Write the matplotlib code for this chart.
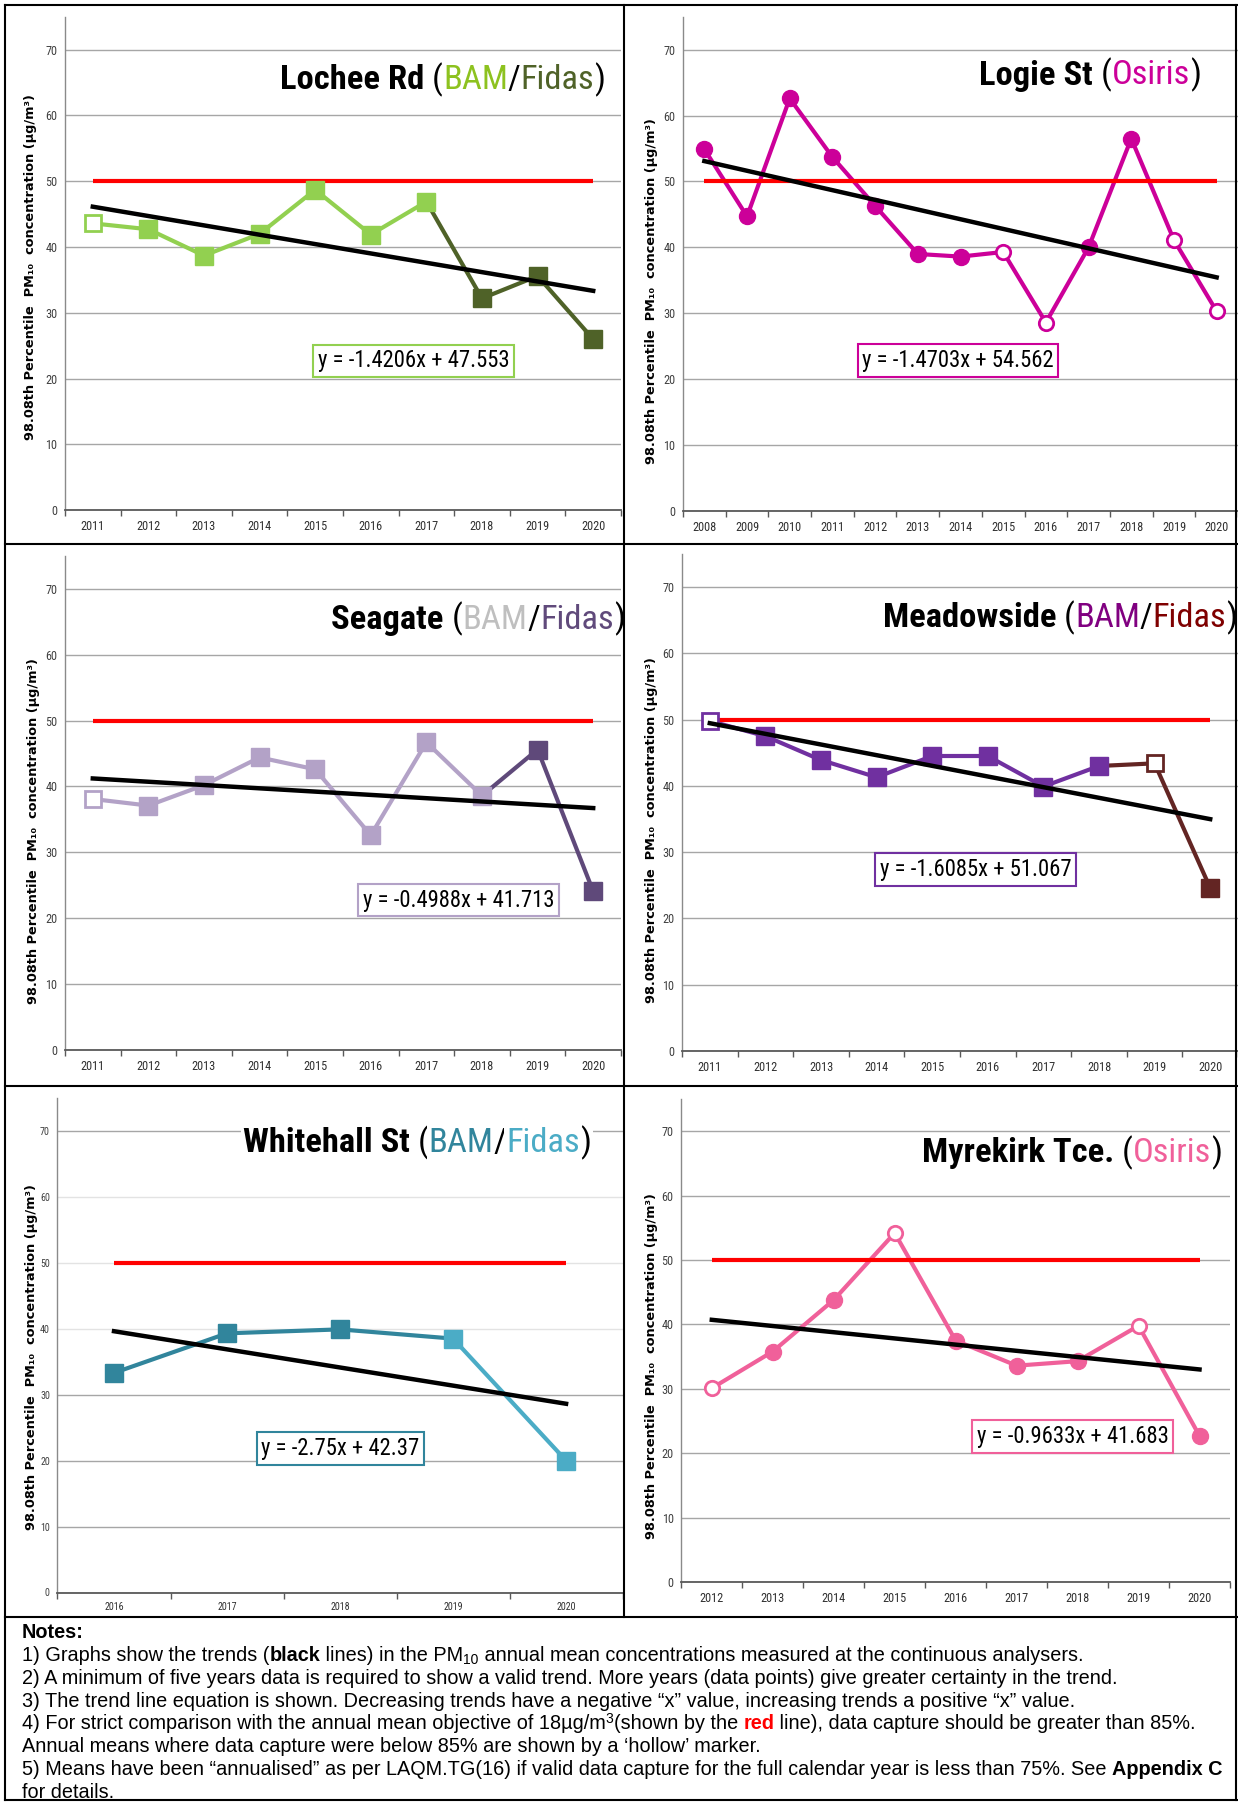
import os
import matplotlib
matplotlib.use("Agg")
import matplotlib.pyplot as plt
from matplotlib import font_manager
from matplotlib.font_manager import FontProperties
from matplotlib.lines import Line2D
import numpy as np

# ---------------- data ----------------
OBJECTIVE = 50

lochee_years = [2011, 2012, 2013, 2014, 2015, 2016, 2017, 2018, 2019, 2020]
lochee_vals = [43.6, 42.7, 38.7, 42.0, 48.7, 41.9, 46.9, 32.2, 35.6, 26.0]
lochee_inst = [0, 0, 0, 0, 0, 0, 0, 1, 1, 1]
lochee_hollow = [1, 0, 0, 0, 0, 0, 0, 0, 0, 0]
lochee_seg = [0, 0, 0, 0, 0, 0, 1, 1, 1]
lochee_trend = (-1.4206, 47.553)

logie_years = [2008, 2009, 2010, 2011, 2012, 2013, 2014, 2015, 2016, 2017, 2018, 2019, 2020]
logie_vals = [54.9, 44.7, 62.6, 53.7, 46.3, 39.0, 38.6, 39.3, 28.6, 40.0, 56.5, 41.1, 30.3]
logie_inst = [0] * 13
logie_hollow = [0, 0, 0, 0, 0, 0, 0, 1, 1, 0, 0, 1, 1]
logie_seg = [0] * 12
logie_trend = (-1.4703, 54.562)

seagate_years = [2011, 2012, 2013, 2014, 2015, 2016, 2017, 2018, 2019, 2020]
seagate_vals = [38.1, 37.1, 40.2, 44.4, 42.6, 32.6, 46.7, 38.6, 45.6, 24.1]
seagate_inst = [0, 0, 0, 0, 0, 0, 0, 0, 1, 1]
seagate_hollow = [1, 0, 0, 0, 0, 0, 0, 0, 0, 0]
seagate_seg = [0, 0, 0, 0, 0, 0, 0, 1, 1]
seagate_trend = (-0.4988, 41.713)

meadow_years = [2011, 2012, 2013, 2014, 2015, 2016, 2017, 2018, 2019, 2020]
meadow_vals = [49.8, 47.5, 43.9, 41.3, 44.5, 44.5, 39.9, 43.0, 43.4, 24.6]
meadow_inst = [0, 0, 0, 0, 0, 0, 0, 0, 1, 1]
meadow_hollow = [1, 0, 0, 0, 0, 0, 0, 0, 1, 0]
meadow_seg = [0, 0, 0, 0, 0, 0, 0, 1, 1]
meadow_trend = (-1.6085, 51.067)

white_years = [2016, 2017, 2018, 2019, 2020]
white_vals = [33.3, 39.3, 39.9, 38.5, 20.0]
white_inst = [0, 0, 0, 1, 1]
white_hollow = [0, 0, 0, 0, 0]
white_seg = [0, 0, 0, 1]
white_trend = (-2.75, 42.37)

myre_years = [2012, 2013, 2014, 2015, 2016, 2017, 2018, 2019, 2020]
myre_vals = [30.1, 35.8, 43.8, 54.2, 37.5, 33.6, 34.3, 39.8, 22.7]
myre_inst = [0] * 9
myre_hollow = [1, 0, 0, 1, 0, 0, 0, 1, 0]
myre_seg = [0] * 8
myre_trend = (-0.9633, 41.683)

Y_TICKS = [0, 10, 20, 30, 40, 50, 60, 70]
Y_LABEL = "98.08th Percentile  PM\u2081\u2080  concentration (\u00b5g/m\u00b3)"

# ---------------- fonts ----------------
BAD = ("italic", "oblique", "semi", "extra", "ultra", "light", "thin", "medium",
       "black", "heavy", "demi", "book")
PRIORITY = ("liberationsansnarrow", "arialnarrow", "robotocondensed",
            "notosans-condensed", "notosanscondensed", "opensans-cond",
            "dejavusanscondensed")


def find_condensed():
    reg, bold = {}, {}
    for f in font_manager.fontManager.ttflist:
        fn = os.path.basename(f.fname).lower()
        if not ("narrow" in fn or "cond" in fn):
            continue
        if any(b in fn for b in BAD):
            continue
        key = None
        for i, p in enumerate(PRIORITY):
            if fn.startswith(p):
                key = i
                break
        if key is None:
            key = 99
        if "bold" in fn:
            bold.setdefault(key, f.fname)
        else:
            reg.setdefault(key, f.fname)
    common = sorted(set(reg) & set(bold))
    if common:
        k = common[0]
        return reg[k], bold[k]
    return None, None


REG_F, BOLD_F = find_condensed()
if REG_F:
    NS = 1.0

    def cond(size, bold=False):
        return FontProperties(fname=BOLD_F if bold else REG_F, size=size)
else:
    NS = 0.82

    def cond(size, bold=False):
        return FontProperties(family="Liberation Sans", weight="bold" if bold else "normal",
                              size=size * NS)

REG = "Liberation Sans"
TITLE_SIZE = 24.8
EQ_SIZE = 16.3

W, H = 1238, 1802
fig = plt.figure(figsize=(W / 100, H / 100), dpi=100)
fig.patch.set_facecolor("white")
RND = fig.canvas.get_renderer()


def fx(x):
    return x / W


def fy(y):
    return 1 - y / H


def text_w(s, **kw):
    t = fig.text(0, 0, "|" + s + "|", **kw)
    t2 = fig.text(0, 0, "||", **kw)
    w = t.get_window_extent(RND).width - t2.get_window_extent(RND).width
    t.remove()
    t2.remove()
    return w


def rich_line(x, y, segs, align="left", **common):
    items = []
    for s, kw in segs:
        k = dict(common)
        k.update({a: b for a, b in kw.items() if a != "dy"})
        items.append((s, k, kw.get("dy", 0), text_w(s, **k)))
    total = sum(i[3] for i in items)
    if align == "center":
        x -= total / 2
    for s, k, dy, w in items:
        fig.text(fx(x), fy(y - dy), s, va="baseline", ha="left", **k)
        x += w


def panel(rect, years, vals, inst, hollow, seg, colors, marker, msize, trend,
          eq_center, eq_color, tick_size, ylab_pos, light_grid=()):
    L, T, Rr, B = rect
    ax = fig.add_axes([fx(L), fy(B), (Rr - L) / W, (B - T) / H])
    n = len(years)
    x = np.arange(n)
    ax.set_xlim(-0.5, n - 0.5)
    ax.set_ylim(0, 75)
    ax.set_yticks(Y_TICKS)
    ax.set_yticklabels([str(v) for v in Y_TICKS])
    ax.set_xticks(x)
    ax.set_xticklabels([str(yr) for yr in years])
    ax.set_xticks(np.arange(n + 1) - 0.5, minor=True)
    ax.tick_params(axis="y", length=0, pad=5.5, labelcolor="#404040")
    ax.tick_params(axis="x", which="major", length=0, pad=7, labelcolor="#303030")
    ax.tick_params(axis="x", which="minor", length=4, width=1, color="#595959", direction="out")
    for lab in ax.get_xticklabels() + ax.get_yticklabels():
        lab.set_fontproperties(cond(tick_size))
    for s in ("top", "right"):
        ax.spines[s].set_visible(False)
    ax.spines["left"].set_color("#8a8a8a")
    ax.spines["left"].set_linewidth(1)
    ax.spines["bottom"].set_color("#595959")
    ax.spines["bottom"].set_linewidth(1.3)
    ax.grid(axis="y", color="#a6a6a6", lw=1)
    ax.set_axisbelow(True)
    for gl, v in zip(ax.get_ygridlines(), Y_TICKS):
        if v in light_grid:
            gl.set_color("#e3e3e3")
    ax.patch.set_alpha(0)
    # objective line
    ax.plot([x[0], x[-1]], [OBJECTIVE, OBJECTIVE], color="#ff0000", lw=3, zorder=3.5,
            solid_capstyle="butt")
    # data segments
    for i in range(n - 1):
        ax.plot(x[i:i + 2], vals[i:i + 2], color=colors[seg[i]], lw=3, zorder=3,
                solid_capstyle="round")
    # markers
    for k in sorted(set(inst)):
        idx_f = [i for i in range(n) if inst[i] == k and not hollow[i]]
        idx_h = [i for i in range(n) if inst[i] == k and hollow[i]]
        if idx_f:
            ax.plot(x[idx_f], [vals[i] for i in idx_f], ls="none", marker=marker,
                    ms=msize, mfc=colors[k], mec=colors[k], zorder=4)
        if idx_h:
            ax.plot(x[idx_h], [vals[i] for i in idx_h], ls="none", marker=marker,
                    ms=msize * 0.9, mfc="white", mec=colors[k], mew=2.0, zorder=4)
    # trend line
    m, b = trend
    xi = x + 1
    ax.plot([x[0], x[-1]], [m * xi[0] + b, m * xi[-1] + b], color="black", lw=3.2, zorder=6)
    # equation box
    fig.text(fx(eq_center[0]), fy(eq_center[1]), f"y = {m:g}x + {b:g}", ha="center",
             va="center", fontproperties=cond(EQ_SIZE), color="black", zorder=10,
             bbox=dict(boxstyle="square,pad=0.2", fc="white", ec=eq_color, lw=1.5))
    # y label
    fig.text(fx(ylab_pos[0]), fy(ylab_pos[1]), Y_LABEL, rotation=90, ha="center",
             va="center", family="DejaVu Sans", weight="bold", size=9.3, color="black")
    return ax


def title(cx, base, name, parts, white_bg=False):
    extra = {}
    if white_bg:
        extra = dict(bbox=dict(fc="white", ec="none", pad=1.5))
    segs = [(name + " ", dict(fontproperties=cond(TITLE_SIZE, True), color="black"))]
    for s, c in parts:
        segs.append((s, dict(fontproperties=cond(TITLE_SIZE), color=c)))
    rich_line(cx, base, segs, align="center", zorder=8, **extra)


# colours
LOCHEE = ["#92d050", "#4f6228"]
LOGIE = ["#cc0099"]
SEAGATE = ["#b3a2c7", "#5f497a"]
MEADOW = ["#7030a0", "#632523"]
WHITE = ["#31859c", "#4bacc6"]
MYRE = ["#f0609a"]

panel((65, 16.7, 621, 510.3), lochee_years, lochee_vals, lochee_inst, lochee_hollow,
      lochee_seg, LOCHEE, "s", 12.5, lochee_trend, (413.5, 361), "#92d050", 8.8, (31, 267))
title(442.5, 89, "Lochee Rd", [("(", "black"), ("BAM", "#8dc21f"), ("/", "black"),
                               ("Fidas", "#4f6228"), (")", "black")])

panel((683, 16.7, 1238, 511), logie_years, logie_vals, logie_inst, logie_hollow,
      logie_seg, LOGIE, "o", 11.5, logie_trend, (958, 360.5), "#cc0099", 8.8, (651.5, 291))
title(1090, 84.5, "Logie St", [("(", "black"), ("Osiris", "#cc0099"), (")", "black")])

panel((65, 555.6, 621, 1050.3), seagate_years, seagate_vals, seagate_inst, seagate_hollow,
      seagate_seg, SEAGATE, "s", 12.5, seagate_trend, (458.5, 900), "#b3a2c7", 8.8, (34, 831))
title(478, 628.6, "Seagate", [("(", "black"), ("BAM", "#bfbfbf"), ("/", "black"),
                              ("Fidas", "#604a7b"), (")", "black")])

panel((682, 553.9, 1238, 1051), meadow_years, meadow_vals, meadow_inst, meadow_hollow,
      meadow_seg, MEADOW, "s", 12.5, meadow_trend, (975.5, 869.5), "#7030a0", 8.8, (651.5, 830))
title(1060, 626.9, "Meadowside", [("(", "black"), ("BAM", "#800080"), ("/", "black"),
                                  ("Fidas", "#7f0000"), (")", "black")])

panel((57.5, 1097.9, 622.6, 1592.5), white_years, white_vals, white_inst, white_hollow,
      white_seg, WHITE, "s", 13, white_trend, (340.5, 1448.5), "#31859c", 7.2, (32, 1357),
      light_grid=(40, 50, 60))
title(417, 1152.3, "Whitehall St", [("(", "black"), ("BAM", "#31859c"), ("/", "black"),
                                    ("Fidas", "#4bacc6"), (")", "black")], white_bg=True)

panel((681.3, 1099, 1230, 1582.1), myre_years, myre_vals, myre_inst, myre_hollow,
      myre_seg, MYRE, "o", 11.5, myre_trend, (1072.5, 1436.5), "#f0609a", 8.8, (651, 1366))
title(1072, 1162, "Myrekirk Tce.", [("(", "black"), ("Osiris", "#f0609a"), (")", "black")])

# ---------------- frame ----------------
def hline(y, x0, x1):
    fig.add_artist(Line2D([fx(x0), fx(x1)], [fy(y), fy(y)], color="black", lw=1.5,
                          transform=fig.transFigure, zorder=20))


def vline(x, y0, y1):
    fig.add_artist(Line2D([fx(x), fx(x)], [fy(y0), fy(y1)], color="black", lw=1.5,
                          transform=fig.transFigure, zorder=20))


hline(5, 5, 1238)
hline(544, 5, 1238)
hline(1086, 5, 1238)
hline(1617, 5, 1238)
hline(1800, 5, 1238)
vline(5, 5, 1800)
vline(624, 5, 1617)
vline(1236, 5, 1800)

# ---------------- notes ----------------
NSZ = 14.3
sub = dict(size=NSZ * 0.7, dy=-3)
sup = dict(size=NSZ * 0.7, dy=6)
notes = [
    [("Notes:", dict(weight="bold"))],
    [("1) Graphs show the trends (", {}), ("black", dict(weight="bold")),
     (" lines) in the PM", {}), ("10", sub),
     (" annual mean concentrations measured at the continuous analysers.", {})],
    [("2) A minimum of five years data is required to show a valid trend. More years (data points) give greater certainty in the trend.", {})],
    [("3) The trend line equation is shown. Decreasing trends have a negative \u201cx\u201d value, increasing trends a positive \u201cx\u201d value.", {})],
    [("4) For strict comparison with the annual mean objective of 18\u00b5g/m", {}), ("3", sup),
     ("(shown by the ", {}), ("red", dict(weight="bold", color="#ff0000")),
     (" line), data capture should be greater than 85%.", {})],
    [("Annual means where data capture were below 85% are shown by a \u2018hollow\u2019 marker.", {})],
    [("5) Means have been \u201cannualised\u201d as per LAQM.TG(16) if valid data capture for the full calendar year is less than 75%. See ", {}),
     ("Appendix C", dict(weight="bold"))],
    [("for details.", {})],
]
for k, segs in enumerate(notes):
    rich_line(22, 1638 + 22.86 * k, segs, family=REG, size=NSZ, color="black")

fig.savefig("out.png", dpi=100, facecolor="white")
